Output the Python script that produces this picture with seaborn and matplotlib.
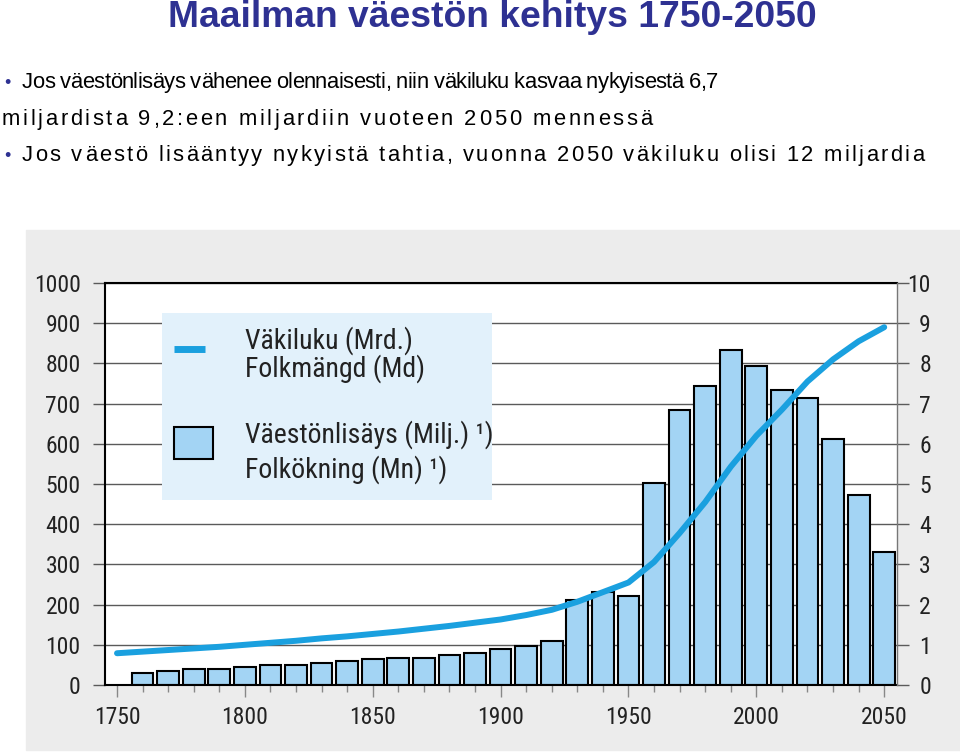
import numpy as np
import matplotlib.pyplot as plt
import seaborn as sns
from matplotlib.patches import Rectangle
from matplotlib.lines import Line2D

sns.set_style("white")
plt.rcParams['font.family'] = ['Roboto Condensed', 'DejaVu Sans']

# Data
bar_years = list(range(1760, 2051, 10))
growth_mn = [31, 35, 40, 40, 45, 49, 49, 54, 60, 65,
             68, 68, 74, 79, 90, 98, 110, 211, 231, 221,
             502, 683, 743, 833, 794, 733, 713, 613, 473, 332]
line_years = list(range(1750, 2051, 10))
population_bn = [0.79, 0.83, 0.87, 0.91, 0.95, 1.00, 1.05, 1.10, 1.16, 1.21,
                 1.27, 1.33, 1.40, 1.47, 1.55, 1.63, 1.74, 1.87, 2.07, 2.31,
                 2.55, 3.06, 3.78, 4.55, 5.43, 6.20, 6.85, 7.55, 8.10, 8.55, 8.90]

title = "Maailman väestön kehitys 1750-2050"
bullet_lines = [
    "Jos väestönlisäys vähenee olennaisesti, niin väkiluku kasvaa nykyisestä 6,7",
    "miljardista 9,2:een miljardiin vuoteen 2050 mennessä",
    "Jos väestö lisääntyy nykyistä tahtia, vuonna 2050 väkiluku olisi 12 miljardia",
]
legend_line = ["Väkiluku (Mrd.)", "Folkmängd (Md)"]
legend_bar = ["Väestönlisäys (Milj.) ¹)", "Folkökning (Mn) ¹)"]

W, H = 960, 753
bar_color = "#a3d4f4"
line_color = "#1aa0df"
navy = "#2e3192"
arial = ["Liberation Sans", "DejaVu Sans"]

fig = plt.figure(figsize=(W / 100, H / 100), dpi=100)
fig.patches.append(Rectangle((26 / W, 3 / H), (W - 26) / W, 520 / H,
                             transform=fig.transFigure, color="#ececec", zorder=-1))

ax = fig.add_axes([105 / W, 68 / H, 792 / W, 402 / H])
ax.set_facecolor("white")
sns.barplot(x=bar_years, y=growth_mn, native_scale=True, width=0.85, color=bar_color,
            saturation=1, edgecolor="black", linewidth=1.5, errorbar=None, ax=ax)

ax2 = ax.twinx()
sns.lineplot(x=line_years, y=population_bn, color=line_color, linewidth=4.3, ax=ax2)

ax.set_xlim(1745.3, 2055)
ax.set_ylim(0, 1000)
ax2.set_ylim(0, 10)
ax.set_xlabel("")
ax.set_ylabel("")
ax2.set_ylabel("")

ax.set_xticks(range(1750, 2051, 50))
ax.set_xticks(range(1760, 2050, 10), minor=True)
ax.set_yticks(range(0, 1001, 100))
ax2.set_yticks(range(0, 11))

ax.yaxis.grid(True, color="#5a5a5a", linewidth=1.0)
ax.set_axisbelow(True)

ax.tick_params(axis="x", which="major", length=8.6, width=1, color="#888888",
               pad=6.5, labelsize=17, bottom=True)
ax.tick_params(axis="x", which="minor", length=5, width=1, color="#888888", bottom=True)
ax.tick_params(axis="y", length=8.6, width=1, color="#5a5a5a", pad=9, labelsize=17, left=True)
ax2.tick_params(axis="y", length=8.6, width=1, color="#5a5a5a", pad=15.8, labelsize=17, right=True)
plt.setp(ax2.get_yticklabels(), ha="right")
for a in (ax, ax2):
    for lbl in a.get_xticklabels() + a.get_yticklabels():
        lbl.set_color("#222222")

for name in ("left", "top", "bottom"):
    ax.spines[name].set_color("black")
    ax.spines[name].set_linewidth(1.5)
    ax2.spines[name].set_visible(False)
ax.spines["right"].set_visible(False)
ax2.spines["right"].set_color("#777777")
ax2.spines["right"].set_linewidth(1.0)

# Legend box
ax.add_patch(Rectangle((0.072, 0.460), 0.417, 0.465, transform=ax.transAxes,
                       facecolor="#e2f1fb", edgecolor="none", zorder=1.5))
ax.add_line(Line2D([0.087, 0.126], [0.8346, 0.8346], transform=ax.transAxes,
                   color=line_color, linewidth=5, solid_capstyle="butt", zorder=2))
ax.add_patch(Rectangle((0.0871, 0.562), 0.0493, 0.0796, transform=ax.transAxes,
                       facecolor=bar_color, edgecolor="black", linewidth=1.5, zorder=2))
for txt, y in zip(legend_line + legend_bar, [0.838, 0.766, 0.602, 0.515]):
    ax.text(0.177, y, txt, transform=ax.transAxes, fontsize=20, va="baseline",
            color="#222222", zorder=3)

# Title and bullet text
renderer = fig.canvas.get_renderer()
t = fig.text(492 / W, 1 - 27 / H, title, ha="center", va="baseline", fontsize=22,
             fontweight="bold", color=navy, family=arial)
t.set_fontsize(22 * 647 / t.get_window_extent(renderer).width)

size = 15.8
probe = fig.text(0, 0, "", fontsize=size, family=arial)


def advance(s):
    probe.set_text(s + "|")
    a = probe.get_window_extent(renderer).width
    probe.set_text("|")
    return a - probe.get_window_extent(renderer).width


def spaced_text(x_px, y_px, s, width_px):
    track = (width_px - advance(s)) / (len(s) - 1)
    for i, ch in enumerate(s):
        if ch == " ":
            continue
        x = x_px + advance(s[:i]) + i * track
        fig.text(x / W, 1 - y_px / H, ch, fontsize=size, va="baseline", color="black",
                 family=arial)


for (x0, y0, x1), s in zip([(22, 88, 718), (2, 125, 652), (22, 161, 924)], bullet_lines):
    spaced_text(x0, y0, s, x1 - x0)
probe.remove()
for y0 in (88, 161):
    fig.text(4 / W, 1 - y0 / H, "•", fontsize=13, va="baseline", color=navy, family=arial)

fig.savefig("out.png", dpi=100)
